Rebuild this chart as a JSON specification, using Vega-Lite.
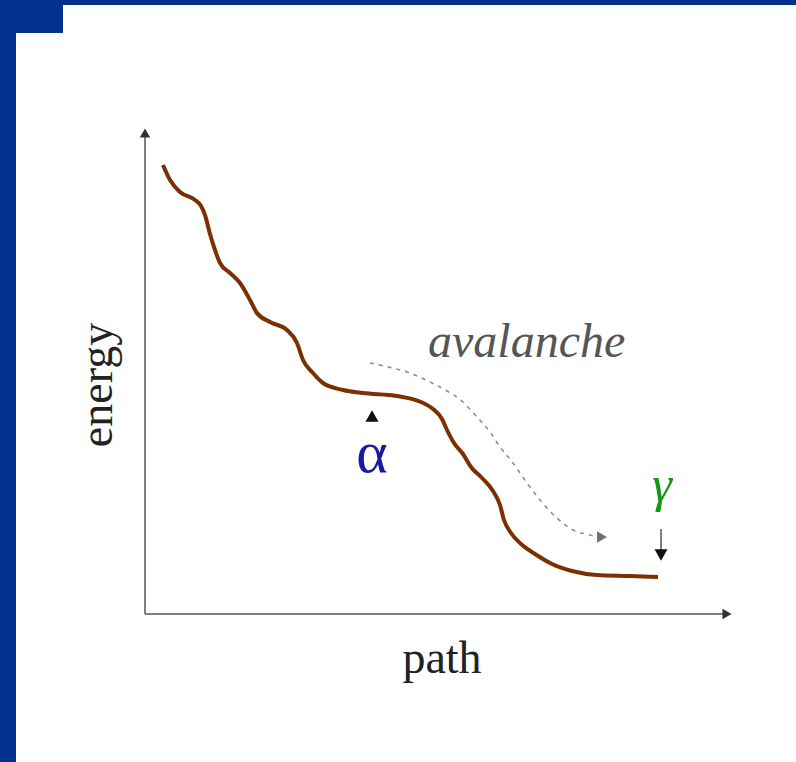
{
  "$schema": "https://vega.github.io/schema/vega-lite/v6.json",
  "width": 796,
  "height": 762,
  "padding": 0,
  "autosize": {"type": "none"},
  "background": "white",
  "config": {"view": {"stroke": null}},
  "datasets": {
    "frame": [
      {"part": "left bar", "x0": -145, "x1": -129, "y0": -148, "y1": 614},
      {"part": "top bar", "x0": -145, "x1": 651, "y0": 609, "y1": 614},
      {"part": "corner", "x0": -145, "x1": -82, "y0": 581, "y1": 614}
    ],
    "axes": [
      {"axis": "path", "p": 0, "e": 0, "p2": 584, "e2": 0},
      {"axis": "energy", "p": 0, "e": 0, "p2": 0, "e2": 480}
    ],
    "heads": [
      {"name": "energy axis", "kind": "axis", "p": 0, "e": 481, "dir": "up"},
      {"name": "path axis", "kind": "axis", "p": 582, "e": 0, "dir": "right"},
      {"name": "alpha", "kind": "marker", "p": 227, "e": 198, "dir": "up"},
      {"name": "gamma", "kind": "marker", "p": 516, "e": 59, "dir": "down"},
      {"name": "avalanche", "kind": "flow", "p": 457, "e": 77, "dir": "right"}
    ],
    "landscape": [
      {"p": 18, "e": 449}, {"p": 25, "e": 434}, {"p": 35, "e": 422},
      {"p": 50, "e": 414}, {"p": 56, "e": 408}, {"p": 60, "e": 399},
      {"p": 65, "e": 380}, {"p": 70, "e": 364}, {"p": 75, "e": 351},
      {"p": 85, "e": 341}, {"p": 95, "e": 331}, {"p": 105, "e": 314},
      {"p": 112, "e": 301}, {"p": 125, "e": 292}, {"p": 142, "e": 284},
      {"p": 152, "e": 271}, {"p": 158, "e": 254}, {"p": 168, "e": 241},
      {"p": 178, "e": 231}, {"p": 198, "e": 224}, {"p": 218, "e": 221},
      {"p": 252, "e": 218}, {"p": 276, "e": 212}, {"p": 288, "e": 205},
      {"p": 297, "e": 195}, {"p": 302, "e": 184}, {"p": 309, "e": 171},
      {"p": 318, "e": 160}, {"p": 326, "e": 147}, {"p": 337, "e": 136},
      {"p": 348, "e": 123}, {"p": 355, "e": 109}, {"p": 359, "e": 94},
      {"p": 366, "e": 81}, {"p": 376, "e": 70}, {"p": 390, "e": 60},
      {"p": 407, "e": 50}, {"p": 427, "e": 43}, {"p": 452, "e": 39},
      {"p": 485, "e": 38}, {"p": 513, "e": 37}
    ],
    "avalanche": [
      {"p": 225, "e": 251}, {"p": 243, "e": 247}, {"p": 262, "e": 242},
      {"p": 285, "e": 232}, {"p": 302, "e": 223}, {"p": 318, "e": 212},
      {"p": 332, "e": 197}, {"p": 345, "e": 182}, {"p": 355, "e": 167},
      {"p": 368, "e": 151}, {"p": 382, "e": 131}, {"p": 395, "e": 114},
      {"p": 412, "e": 96}, {"p": 428, "e": 84}, {"p": 445, "e": 79},
      {"p": 452, "e": 77}
    ]
  },
  "encoding": {
    "x": {"type": "quantitative", "scale": {"domain": [-145, 651], "nice": false, "zero": false}, "axis": null},
    "y": {"type": "quantitative", "scale": {"domain": [-148, 614], "nice": false, "zero": false}, "axis": null}
  },
  "layer": [
    {
      "data": {"name": "frame"},
      "mark": {"type": "rect", "color": "#01318c"},
      "encoding": {
        "x": {"field": "x0", "type": "quantitative"},
        "x2": {"field": "x1"},
        "y": {"field": "y0", "type": "quantitative"},
        "y2": {"field": "y1"}
      }
    },
    {
      "data": {"name": "axes"},
      "mark": {"type": "rule", "color": "#808080", "strokeWidth": 2},
      "encoding": {
        "x": {"field": "p", "type": "quantitative"},
        "x2": {"field": "p2"},
        "y": {"field": "e", "type": "quantitative"},
        "y2": {"field": "e2"}
      }
    },
    {
      "data": {"name": "landscape"},
      "mark": {"type": "line", "color": "#7b3000", "strokeWidth": 4, "interpolate": "monotone"},
      "encoding": {
        "x": {"field": "p", "type": "quantitative"},
        "y": {"field": "e", "type": "quantitative"}
      }
    },
    {
      "data": {"name": "avalanche"},
      "mark": {"type": "line", "color": "#8c8c8c", "strokeWidth": 1.6, "strokeDash": [4, 5], "interpolate": "monotone"},
      "encoding": {
        "x": {"field": "p", "type": "quantitative"},
        "y": {"field": "e", "type": "quantitative"}
      }
    },
    {
      "data": {"values": [{"p": 516, "e": 85, "e2": 62}]},
      "mark": {"type": "rule", "color": "#808080", "strokeWidth": 2},
      "encoding": {
        "x": {"field": "p", "type": "quantitative"},
        "y": {"field": "e", "type": "quantitative"},
        "y2": {"field": "e2"}
      }
    },
    {
      "data": {"name": "heads"},
      "transform": [{"filter": "datum.kind === 'axis'"}],
      "mark": {"type": "point", "filled": true, "opacity": 1, "color": "#333333", "size": 110},
      "encoding": {
        "x": {"field": "p", "type": "quantitative"},
        "y": {"field": "e", "type": "quantitative"},
        "shape": {
          "field": "dir", "type": "nominal", "legend": null,
          "scale": {"domain": ["up", "right", "down"], "range": ["triangle-up", "triangle-right", "triangle-down"]}
        }
      }
    },
    {
      "data": {"name": "heads"},
      "transform": [{"filter": "datum.kind === 'marker'"}],
      "mark": {"type": "point", "filled": true, "opacity": 1, "color": "#111111", "size": 170},
      "encoding": {
        "x": {"field": "p", "type": "quantitative"},
        "y": {"field": "e", "type": "quantitative"},
        "shape": {
          "field": "dir", "type": "nominal", "legend": null,
          "scale": {"domain": ["up", "right", "down"], "range": ["triangle-up", "triangle-right", "triangle-down"]}
        }
      }
    },
    {
      "data": {"name": "heads"},
      "transform": [{"filter": "datum.kind === 'flow'"}],
      "mark": {"type": "point", "filled": true, "opacity": 1, "color": "#707070", "size": 130},
      "encoding": {
        "x": {"field": "p", "type": "quantitative"},
        "y": {"field": "e", "type": "quantitative"},
        "shape": {
          "field": "dir", "type": "nominal", "legend": null,
          "scale": {"domain": ["up", "right", "down"], "range": ["triangle-up", "triangle-right", "triangle-down"]}
        }
      }
    },
    {
      "data": {"values": [{"p": 283, "e": 257, "label": "avalanche"}]},
      "mark": {"type": "text", "font": "Liberation Serif", "fontStyle": "italic", "fontSize": 48, "color": "#555555", "align": "left", "baseline": "alphabetic"},
      "encoding": {
        "x": {"field": "p", "type": "quantitative"},
        "y": {"field": "e", "type": "quantitative"},
        "text": {"field": "label"}
      }
    },
    {
      "data": {"values": [{"p": -33, "e": 229, "label": "energy"}]},
      "mark": {"type": "text", "font": "Liberation Serif", "fontSize": 46, "color": "#222222", "align": "center", "baseline": "alphabetic", "angle": 270},
      "encoding": {
        "x": {"field": "p", "type": "quantitative"},
        "y": {"field": "e", "type": "quantitative"},
        "text": {"field": "label"}
      }
    },
    {
      "data": {"values": [{"p": 297, "e": -59, "label": "path"}]},
      "mark": {"type": "text", "font": "Liberation Serif", "fontSize": 46, "color": "#222222", "align": "center", "baseline": "alphabetic"},
      "encoding": {
        "x": {"field": "p", "type": "quantitative"},
        "y": {"field": "e", "type": "quantitative"},
        "text": {"field": "label"}
      }
    },
    {
      "data": {"values": [{"p": 227, "e": 142, "label": "α"}]},
      "mark": {"type": "text", "font": "Liberation Serif", "fontSize": 60, "color": "#1a1aa0", "align": "center", "baseline": "alphabetic"},
      "encoding": {
        "x": {"field": "p", "type": "quantitative"},
        "y": {"field": "e", "type": "quantitative"},
        "text": {"field": "label"}
      }
    },
    {
      "data": {"values": [{"p": 517, "e": 113, "label": "γ"}]},
      "mark": {"type": "text", "font": "Liberation Serif", "fontStyle": "italic", "fontSize": 50, "color": "#129a12", "align": "center", "baseline": "alphabetic"},
      "encoding": {
        "x": {"field": "p", "type": "quantitative"},
        "y": {"field": "e", "type": "quantitative"},
        "text": {"field": "label"}
      }
    }
  ]
}
